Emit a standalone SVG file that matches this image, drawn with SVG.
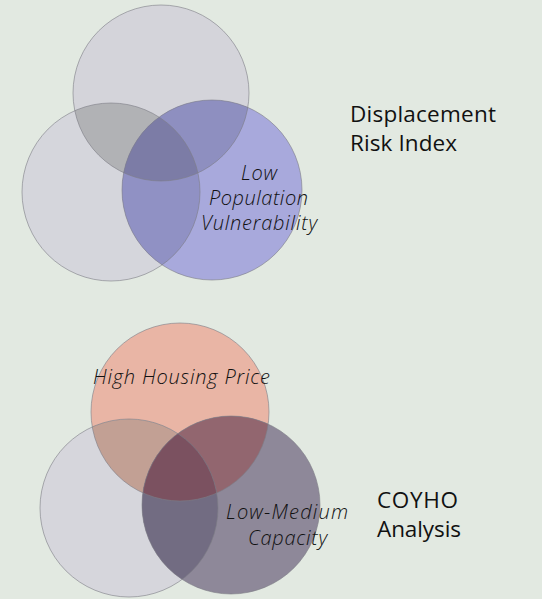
<svg xmlns="http://www.w3.org/2000/svg" width="542" height="599" viewBox="0 0 542 599">
<defs>
<clipPath id="cT1"><circle cx="161" cy="93" r="88"/></clipPath>
<clipPath id="cL1"><circle cx="111" cy="192" r="89"/></clipPath>
<clipPath id="cR1"><circle cx="212" cy="190" r="90"/></clipPath>
<clipPath id="cT2"><circle cx="180" cy="412" r="89"/></clipPath>
<clipPath id="cL2"><circle cx="129" cy="508" r="89"/></clipPath>
<clipPath id="cR2"><circle cx="231" cy="505" r="89"/></clipPath>
</defs>
<style>
.outline{fill:none;stroke:#7d7d86;stroke-width:1;stroke-opacity:0.6}
.lbl{font-family:"Open Sans","Noto Sans",sans-serif;font-style:italic;font-weight:300;font-size:20px;fill:#111}
.ttl{font-family:"Open Sans","Noto Sans",sans-serif;font-size:22.5px;fill:#111}
</style>
<rect width="542" height="599" fill="#e2e9e1"/>

<g id="venn-displacement">
<g id="circle-top-1"><circle cx="161" cy="93" r="88" fill="#d4d4da"/></g>
<g id="circle-left-1"><circle cx="111" cy="192" r="89" fill="#d5d6dc"/></g>
<g id="circle-right-1"><circle cx="212" cy="190" r="90" fill="#a8a9dc"/></g>
<g clip-path="url(#cT1)"><circle cx="111" cy="192" r="89" fill="#b1b2b5"/></g>
<g clip-path="url(#cT1)"><circle cx="212" cy="190" r="90" fill="#8e8fc0"/></g>
<g clip-path="url(#cL1)"><circle cx="212" cy="190" r="90" fill="#9091c4"/></g>
<g clip-path="url(#cT1)"><g clip-path="url(#cL1)"><circle cx="212" cy="190" r="90" fill="#7c7ca6"/></g></g>
<circle class="outline" cx="161" cy="93" r="88"/>
<circle class="outline" cx="111" cy="192" r="89"/>
<circle class="outline" cx="212" cy="190" r="90"/>
<text class="lbl" x="241" y="180" textLength="36">Low</text>
<text class="lbl" x="209" y="205" textLength="99">Population</text>
<text class="lbl" x="201" y="230" textLength="116">Vulnerability</text>
</g>
<g id="title-displacement"><text class="ttl"><tspan x="350" y="122" textLength="146">Displacement</tspan><tspan x="350" y="151" textLength="107">Risk Index</tspan></text></g>

<g id="venn-coyho">
<g id="circle-top-2"><circle cx="180" cy="412" r="89" fill="#e9b5a5"/></g>
<g id="circle-left-2"><circle cx="129" cy="508" r="89" fill="#d6d6dc"/></g>
<g id="circle-right-2"><circle cx="231" cy="505" r="89" fill="#8e8899"/></g>
<g clip-path="url(#cT2)"><circle cx="129" cy="508" r="89" fill="#c2a094"/></g>
<g clip-path="url(#cT2)"><circle cx="231" cy="505" r="89" fill="#92666f"/></g>
<g clip-path="url(#cL2)"><circle cx="231" cy="505" r="89" fill="#726c82"/></g>
<g clip-path="url(#cT2)"><g clip-path="url(#cL2)"><circle cx="231" cy="505" r="89" fill="#7b5160"/></g></g>
<circle class="outline" cx="180" cy="412" r="89"/>
<circle class="outline" cx="129" cy="508" r="89"/>
<circle class="outline" cx="231" cy="505" r="89"/>
<text class="lbl" x="93" y="384" textLength="177">High Housing Price</text>
<text class="lbl" x="226" y="519" textLength="122">Low-Medium</text>
<text class="lbl" x="248" y="545" textLength="79">Capacity</text>
</g>
<g id="title-coyho"><text class="ttl"><tspan x="377" y="508" textLength="81">COYHO</tspan><tspan x="377" y="537" textLength="84">Analysis</tspan></text></g>
</svg>
